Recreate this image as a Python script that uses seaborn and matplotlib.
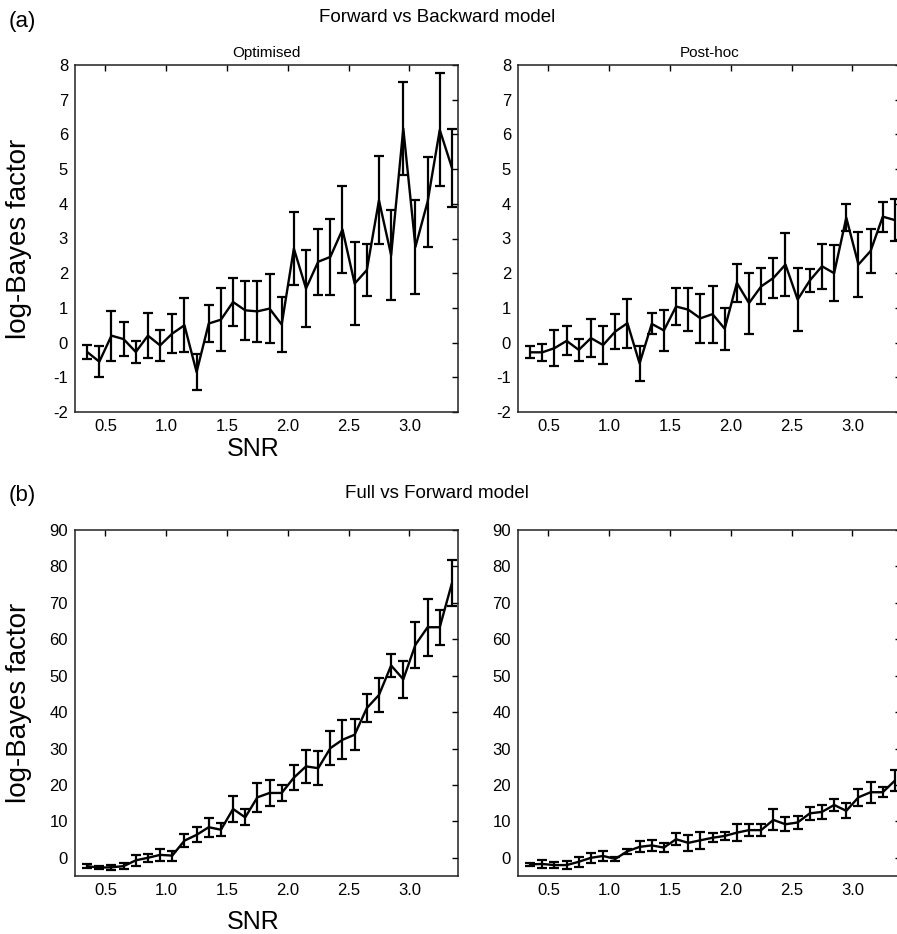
import numpy as np
import pandas as pd
import matplotlib
matplotlib.use("Agg")
import matplotlib.pyplot as plt
import seaborn as sns

# SNR levels shared by every panel
snr = [0.35, 0.45, 0.55, 0.65, 0.75, 0.85, 0.95, 1.05, 1.15, 1.25, 1.35,
       1.45, 1.55, 1.65, 1.75, 1.85, 1.95, 2.05, 2.15, 2.25, 2.35, 2.45,
       2.55, 2.65, 2.75, 2.85, 2.95, 3.05, 3.15, 3.25, 3.35]

# (a) Forward vs Backward model
opt_mean = [-0.27, -0.55, 0.2, 0.1, -0.27, 0.2, -0.08, 0.26, 0.5, -0.85, 0.55,
            0.66, 1.17, 0.93, 0.9, 0.98, 0.52, 2.71, 1.56, 2.33, 2.47, 3.26,
            1.7, 2.09, 4.1, 2.52, 6.17, 2.76, 4.06, 6.13, 5.04]
opt_err = [0.2, 0.45, 0.72, 0.48, 0.33, 0.65, 0.45, 0.56, 0.78, 0.52, 0.53,
           0.9, 0.7, 0.85, 0.88, 1.0, 0.8, 1.05, 1.1, 0.95, 1.1, 1.25,
           1.2, 0.75, 1.27, 1.3, 1.35, 1.35, 1.3, 1.63, 1.12]
post_mean = [-0.28, -0.28, -0.16, 0.05, -0.21, 0.13, -0.07, 0.32, 0.56, -0.6, 0.54,
             0.35, 1.04, 0.95, 0.7, 0.82, 0.4, 1.72, 1.14, 1.62, 1.86, 2.25,
             1.24, 1.79, 2.2, 2.0, 3.6, 2.25, 2.64, 3.63, 3.53]
post_err = [0.17, 0.25, 0.52, 0.42, 0.32, 0.55, 0.55, 0.5, 0.71, 0.5, 0.3,
            0.6, 0.52, 0.63, 0.7, 0.82, 0.6, 0.55, 0.88, 0.52, 0.57, 0.9,
            0.9, 0.33, 0.65, 0.8, 0.39, 0.94, 0.62, 0.43, 0.6]

# (b) Full vs Forward model
full_opt_mean = [-2.3, -2.7, -2.6, -2.3, -0.7, 0.0, 0.8, 0.6, 4.7, 6.3, 8.4,
                 7.7, 13.4, 11.1, 16.6, 17.8, 17.8, 22.0, 25.1, 24.6, 30.1, 32.4,
                 33.8, 41.1, 44.7, 52.8, 49.0, 58.5, 63.3, 63.3, 75.4]
full_opt_err = [0.5, 0.5, 0.7, 0.8, 1.6, 1.05, 1.7, 1.4, 1.8, 2.1, 2.6,
                1.8, 3.5, 2.2, 3.9, 3.6, 2.1, 3.4, 4.5, 4.7, 4.6, 5.4,
                4.3, 3.8, 4.6, 3.2, 5.0, 6.3, 7.8, 4.8, 6.4]
full_post_mean = [-1.8, -1.7, -2.0, -2.0, -1.1, 0.0, 0.5, -0.3, 1.8, 3.0, 3.4,
                  2.8, 5.1, 4.1, 4.8, 5.5, 6.0, 6.9, 7.6, 7.6, 10.4, 9.2,
                  9.7, 12.2, 12.6, 14.5, 12.9, 16.6, 18.0, 18.0, 21.2]
full_post_err = [0.5, 1.1, 0.9, 1.0, 1.4, 1.4, 1.4, 0.6, 0.7, 1.5, 1.6,
                 1.3, 1.7, 2.1, 2.4, 1.2, 1.15, 2.3, 1.7, 1.7, 2.9, 1.9,
                 1.75, 1.7, 2.0, 1.7, 2.1, 2.4, 2.9, 1.3, 2.9]

x_ticks = [0.5, 1.0, 1.5, 2.0, 2.5, 3.0]
x_tick_labels = ["0.5", "1.0", "1.5", "2.0", "2.5", "3.0"]

sns.set_theme(style="white")
plt.rcParams["font.family"] = ["Liberation Sans", "DejaVu Sans"]
plt.rcParams["text.color"] = "black"
plt.rcParams["axes.labelcolor"] = "black"
plt.rcParams["axes.unicode_minus"] = False

fig = plt.figure(figsize=(8.97, 9.34), dpi=100)
W, H = 897.0, 934.0


def add_axes(left, top, right, bottom):
    return fig.add_axes([left / W, 1 - bottom / H, (right - left) / W, (bottom - top) / H])


def draw_panel(ax, mean, err, ylim, yticks):
    df = pd.DataFrame({"snr": snr, "value": mean, "err": err})
    sns.lineplot(data=df, x="snr", y="value", ax=ax, color="black", linewidth=1.7)
    ax.errorbar(df["snr"], df["value"], yerr=df["err"], fmt="none",
                ecolor="black", elinewidth=1.6, capsize=3.6, capthick=1.6)
    ax.set_xlim(0.25, 3.4)
    ax.set_ylim(*ylim)
    ax.set_xticks(x_ticks)
    ax.set_xticklabels(x_tick_labels)
    ax.set_yticks(yticks)
    ax.set_xlabel("")
    ax.set_ylabel("")
    ax.tick_params(direction="in", length=4, width=1, top=True, right=True,
                   labelsize=12, colors="black", pad=5)
    for sp in ax.spines.values():
        sp.set_color("#222222")
        sp.set_linewidth(1.1)


ax1 = add_axes(75, 65, 458, 412)
ax2 = add_axes(518, 65, 901, 412)
ax3 = add_axes(75, 530, 458, 876)
ax4 = add_axes(518, 530, 901, 876)

draw_panel(ax1, opt_mean, opt_err, (-2, 8), list(range(-2, 9)))
draw_panel(ax2, post_mean, post_err, (-2, 8), list(range(-2, 9)))
draw_panel(ax3, full_opt_mean, full_opt_err, (-5, 90), list(range(0, 91, 10)))
draw_panel(ax4, full_post_mean, full_post_err, (-5, 90), list(range(0, 91, 10)))

ax1.set_title("Optimised", fontsize=11, pad=6)
ax2.set_title("Post-hoc", fontsize=11, pad=6)

for ax in (ax1, ax3):
    ax.set_ylabel("log-Bayes factor", fontsize=20)
    ax.yaxis.set_label_coords(-0.112, 0.5)
    ax.set_xlabel("SNR", fontsize=18)
ax1.xaxis.set_label_coords(0.465, -0.072)
ax3.xaxis.set_label_coords(0.465, -0.098)

fig.text(437 / W, 1 - 18 / H, "Forward vs Backward model", ha="center", va="center", fontsize=13.5)
fig.text(437 / W, 1 - 493 / H, "Full vs Forward model", ha="center", va="center", fontsize=13.5)
fig.text(9 / W, 1 - 21 / H, "(a)", ha="left", va="center", fontsize=16)
fig.text(9 / W, 1 - 496 / H, "(b)", ha="left", va="center", fontsize=16)

fig.savefig("out.png", dpi=100)
